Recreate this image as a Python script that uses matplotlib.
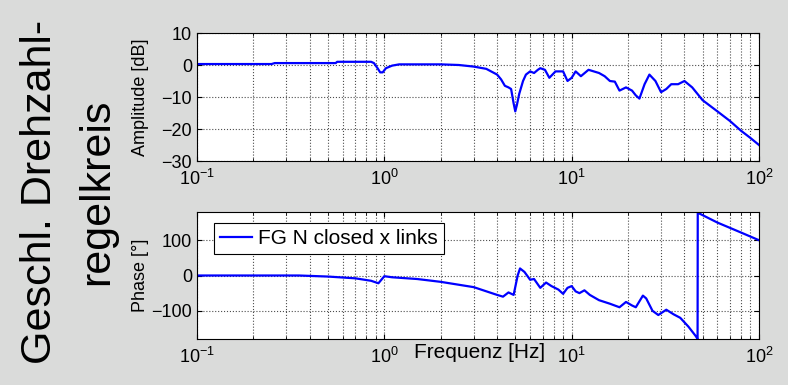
import matplotlib
matplotlib.use("Agg")
import matplotlib.pyplot as plt
import numpy as np

plt.rcParams['font.family'] = ['Liberation Sans', 'DejaVu Sans']
plt.rcParams['mathtext.fontset'] = 'custom'
plt.rcParams['mathtext.rm'] = 'Liberation Sans'
plt.rcParams['mathtext.it'] = 'Liberation Sans'
plt.rcParams['mathtext.sf'] = 'Liberation Sans'

# Amplitude response
freq_amp = [0.1, 0.25, 0.26, 0.55, 0.56, 0.85, 0.88, 0.92, 0.95, 0.98, 1.02, 1.1, 1.2, 2.0,
            2.5, 3.0, 3.5, 4.0, 4.2, 4.4, 4.6, 4.75, 4.9, 5.0, 5.1, 5.25, 5.5, 5.7, 6.0,
            6.3, 6.6, 6.8, 7.2, 7.6, 8.2, 9.0, 9.5, 10.0, 10.5, 11.2, 12.3, 14.0, 15.0,
            16.0, 17.0, 18.0, 19.5, 21.0, 22.0, 23.0, 24.5, 26.0, 28.0, 30.0, 32.0, 34.0,
            37.0, 40.0, 44.0, 50.0, 60.0, 70.0, 80.0, 90.0, 100.0]
amp_db = [0.3, 0.3, 0.6, 0.6, 1.0, 1.0, 0.6, -1.0, -2.3, -2.3, -1.0, -0.2, 0.2, 0.2,
          0.0, -0.5, -1.2, -3.0, -4.5, -6.5, -7.0, -7.5, -12.0, -14.5, -12.5, -9.0, -5.0, -3.0, -2.0,
          -2.5, -1.5, -1.0, -1.5, -4.0, -2.0, -2.0, -5.0, -4.0, -2.0, -3.5, -1.5, -2.5, -3.5,
          -5.0, -5.2, -8.0, -7.0, -8.0, -9.5, -10.5, -6.0, -3.0, -5.0, -8.5, -7.5, -6.0,
          -6.0, -5.0, -7.0, -11.0, -14.5, -17.5, -20.5, -22.8, -25.0]

# Phase response
freq_ph = [0.1, 0.35, 0.5, 0.7, 0.85, 0.93, 1.0, 1.1, 1.5, 2.0, 3.0, 4.0, 4.3, 4.6,
           4.9, 5.15, 5.3, 5.6, 6.0, 6.3, 6.8, 7.3, 7.8, 8.5, 9.0, 9.5, 10.0, 10.5,
           11.0, 11.7, 12.5, 14.0, 16.0, 18.0, 19.5, 21.0, 22.0, 24.0, 25.0, 27.0,
           29.0, 32.0, 35.0, 38.0, 42.0, 46.0, 47.0, 47.1, 60.0, 80.0, 100.0]
phase_deg = [0, 0, -3, -8, -15, -22, -2, -5, -10, -18, -33, -55, -60, -48,
             -55, 0, 20, 10, -12, -10, -35, -20, -30, -40, -52, -35, -30, -45,
             -50, -42, -55, -70, -80, -90, -75, -85, -90, -57, -65, -100,
             -112, -97, -110, -120, -145, -172, -180, 178, 150, 122, 100]

fig = plt.figure(figsize=(7.88, 3.85), dpi=100, facecolor='#dadbda')
ax1 = fig.add_axes([197/788, 1-161/385, 562/788, 128/385])
ax2 = fig.add_axes([197/788, 1-339/385, 562/788, 127/385])

ax1.semilogx(freq_amp, amp_db, color='blue', lw=1.6)
ax2.semilogx(freq_ph, phase_deg, color='blue', lw=1.6, label='FG N closed x links')

for ax in (ax1, ax2):
    ax.set_xlim(0.1, 100)
    ax.set_facecolor('white')
    ax.grid(True, which='both', axis='x', linestyle=':', color='0.3', lw=0.8)
    ax.grid(True, which='major', axis='y', linestyle=':', color='0.3', lw=0.8)
    ax.tick_params(which='both', direction='in', top=True, right=True, labelsize=13)
    ax.tick_params(axis='x', pad=6)
    ax.set_xticks([0.1, 1, 10, 100])
    ax.set_xticklabels([r'$10^{-1}$', r'$10^{0}$', r'$10^{1}$', r'$10^{2}$'])
    for s in ax.spines.values():
        s.set_linewidth(0.8)

ax1.set_ylim(-30, 10)
ax1.set_yticks([-30, -20, -10, 0, 10])
ax1.set_ylabel('Amplitude [dB]', fontsize=13)
ax1.yaxis.set_label_coords((149-197)/562, 0.5)

ax2.set_ylim(-180, 180)
ax2.set_yticks([-100, 0, 100])
ax2.set_ylabel('Phase [°]', fontsize=13)
ax2.yaxis.set_label_coords((149-197)/562, 0.5)
fig.text(480/788, 1-353/385, 'Frequenz [Hz]', ha='center', va='center', fontsize=15)

leg = ax2.legend(loc='upper left', fontsize=15, fancybox=False, framealpha=1,
                 edgecolor='black', handlelength=1.5, handletextpad=0.3,
                 borderpad=0.3, borderaxespad=0,
                 bbox_to_anchor=((214-197)/562, (339-223)/127))
leg.get_frame().set_linewidth(0.8)

fig.text(40/788, 1-192/385, 'Geschl. Drehzahl-', rotation=90, ha='center', va='center', fontsize=31)
fig.text(97/788, 1-192/385, 'regelkreis', rotation=90, ha='center', va='center', fontsize=31)

fig.savefig('out.png', dpi=100, facecolor=fig.get_facecolor())
